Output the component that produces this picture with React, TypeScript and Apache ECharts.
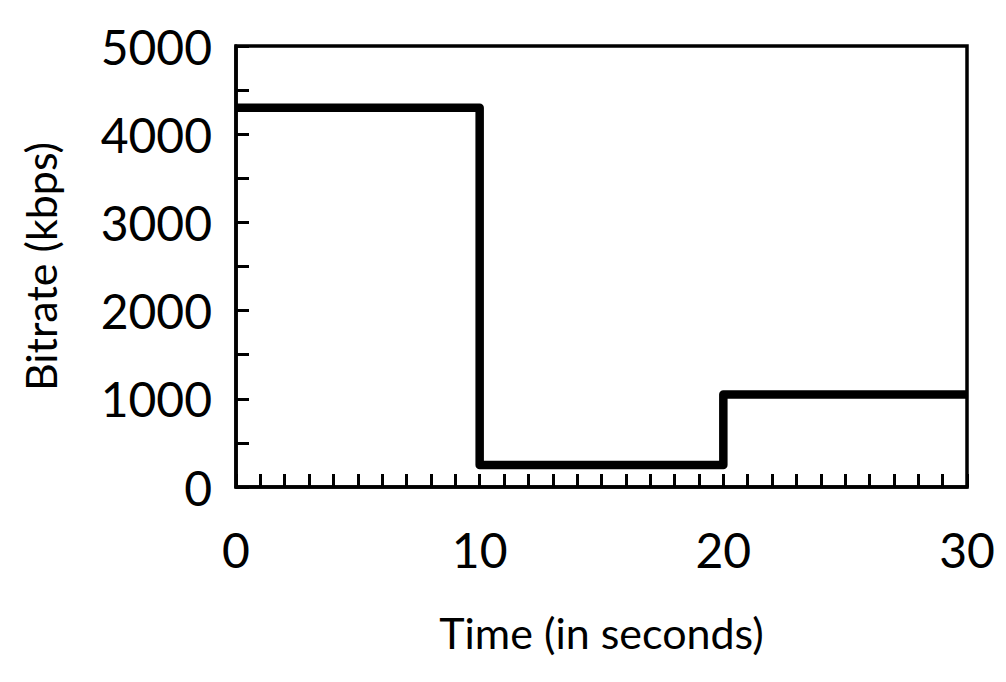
import React, { useEffect, useRef } from "react";
import * as echarts from "echarts";

const times = [0, 10, 20, 30];
const bitrates = [4300, 250, 1050, 1050];
const xTicks = [0, 10, 20, 30];
const yTicks = [0, 1000, 2000, 3000, 4000, 5000];
const xTitle = "Time (in seconds)";
const yTitle = "Bitrate (kbps)";

const FONT = "Lato, 'Open Sans', sans-serif";

export default function App() {
  const ref = useRef<HTMLDivElement>(null);
  useEffect(() => {
    if (!ref.current) return;
    const chart = echarts.init(ref.current, undefined, { renderer: "svg" });
    const axisCommon = {
      axisLine: { show: true, lineStyle: { color: "#000", width: 3.5 } },
      axisTick: { show: true, inside: true, length: 13, lineStyle: { color: "#000", width: 3 } },
      minorTick: { show: true, splitNumber: 2, length: 13, lineStyle: { color: "#000", width: 3 } },
      splitLine: { show: false },
    };
    chart.setOption({
      animation: false,
      backgroundColor: "#fff",
      grid: {
        left: 236,
        top: 46,
        right: 39,
        bottom: 195,
        show: true,
        borderColor: "#000",
        borderWidth: 3.5,
        containLabel: false,
      },
      xAxis: {
        type: "value",
        min: xTicks[0],
        max: xTicks[xTicks.length - 1],
        interval: 10,
        ...axisCommon,
        minorTick: { show: true, splitNumber: 10, length: 13, lineStyle: { color: "#000", width: 3 } },
        axisLabel: {
          color: "#000",
          fontSize: 48,
          fontFamily: FONT,
          margin: 38,
          formatter: (v: number) => String(v),
        },
        name: xTitle,
        nameLocation: "middle",
        nameGap: 124,
        nameTextStyle: { color: "#000", fontSize: 43, fontFamily: FONT },
      },
      yAxis: {
        type: "value",
        min: yTicks[0],
        max: yTicks[yTicks.length - 1],
        interval: 1000,
        ...axisCommon,
        axisLabel: {
          color: "#000",
          fontSize: 48,
          fontFamily: FONT,
          margin: 24,
          formatter: (v: number) => String(v),
        },
        name: yTitle,
        nameLocation: "middle",
        nameGap: 174,
        nameRotate: 90,
        nameTextStyle: { color: "#000", fontSize: 43, fontFamily: FONT },
      },
      series: [
        {
          type: "line",
          step: "end",
          data: times.map((t, i) => [t, bitrates[i]]),
          showSymbol: false,
          lineStyle: { color: "#000", width: 8.5, join: "round" },
        },
      ],
    });
    return () => chart.dispose();
  }, []);
  return (
    <div
      ref={ref}
      style={{ position: "fixed", left: 0, top: 0, width: 1006, height: 682, background: "#fff" }}
    />
  );
}
